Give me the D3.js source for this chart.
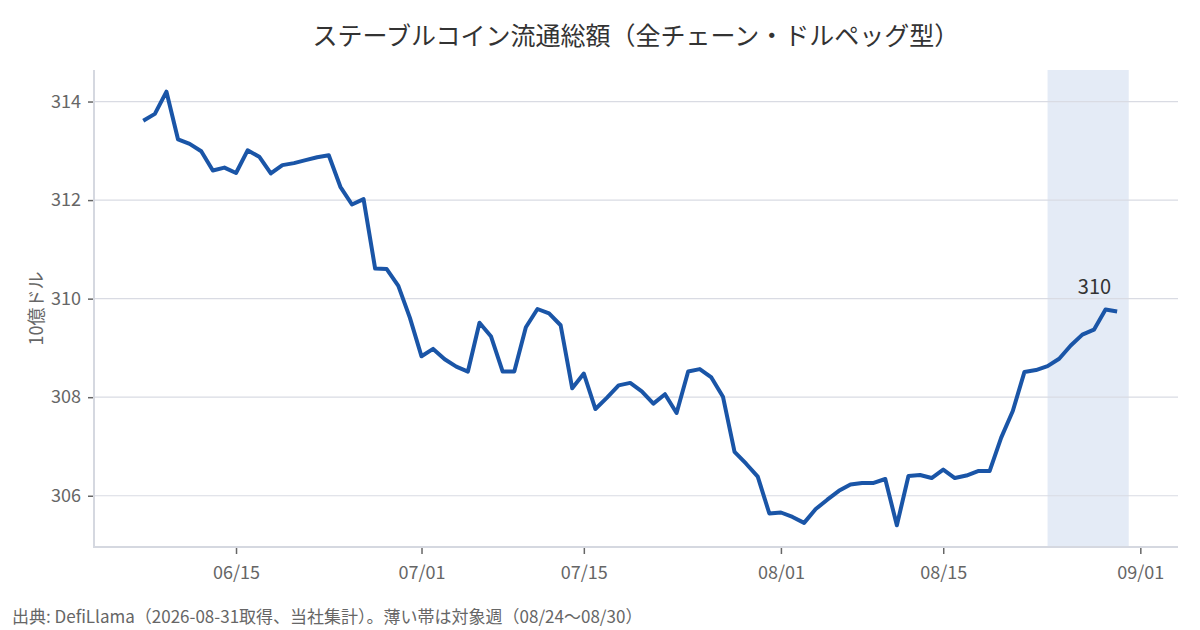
<!DOCTYPE html>
<html><head><meta charset="utf-8">
<script src="https://cdn.jsdelivr.net/npm/d3@7"></script>
<style>
html,body{margin:0;padding:0;background:#fff;}
svg{display:block;font-family:"Noto Sans CJK JP","Noto Sans",sans-serif;}
</style></head>
<body>
<svg id="chart" width="1200" height="630"></svg>
<script>
const TITLE = "ステーブルコイン流通総額（全チェーン・ドルペッグ型）";
const Y_LABEL = "10億ドル";
const FOOTER = "出典: DefiLlama（2026-08-31取得、当社集計）。薄い帯は対象週（08/24〜08/30）";
const FIRST_DAY = "2026-06-07";
const LAST_DAY = "2026-08-30";
const values = [
  313.61, 313.75, 314.20, 313.23, 313.14, 312.99, 312.60, 312.66, 312.55, 313.01,
  312.88, 312.54, 312.71, 312.75, 312.81, 312.87, 312.91, 312.27, 311.91, 312.02,
  310.61, 310.60, 310.26, 309.61, 308.83, 308.98, 308.77, 308.62, 308.52, 309.51,
  309.23, 308.52, 308.52, 309.42, 309.79, 309.70, 309.46, 308.18, 308.48, 307.76,
  307.99, 308.24, 308.29, 308.12, 307.87, 308.06, 307.68, 308.52, 308.57, 308.40,
  308.01, 306.89, 306.65, 306.39, 305.64, 305.66, 305.57, 305.45, 305.73, 305.92,
  306.10, 306.23, 306.26, 306.26, 306.34, 305.40, 306.40, 306.42, 306.36, 306.53,
  306.36, 306.41, 306.50, 306.50, 307.18, 307.72, 308.51, 308.55, 308.63, 308.78,
  309.05, 309.27, 309.37, 309.78, 309.74
];
const bandStart = "2026-08-24";
const bandEnd = "2026-08-31";
const xTickDates = ["2026-06-15","2026-07-01","2026-07-15","2026-08-01","2026-08-15","2026-09-01"];
const yTicks = [306, 308, 310, 312, 314];

const parse = d3.utcParse("%Y-%m-%d");
const days = d3.utcDay.range(parse(FIRST_DAY), d3.utcDay.offset(parse(LAST_DAY), 1));
const data = days.map((d, i) => ({date: d, value: values[i]}));

const svg = d3.select("#chart");
const m = {left: 94, right: 1178, top: 70, bottom: 547};
const FONT = '"Noto Sans CJK JP","Noto Sans",sans-serif';

const x0 = parse(FIRST_DAY), x1 = parse(bandEnd);
const span = x1 - x0;
const x = d3.scaleUtc()
  .domain([new Date(+x0 - span * 0.05), new Date(+x1 + span * 0.05)])
  .range([m.left, m.right]);

const vmin = d3.min(values), vmax = d3.max(values);
const vr = vmax - vmin;
const y = d3.scaleLinear()
  .domain([vmin - vr * 0.05, vmax + vr * 0.05])
  .range([m.bottom, m.top]);

// band
svg.append("rect")
  .attr("x", x(parse(bandStart)))
  .attr("y", m.top)
  .attr("width", x(parse(bandEnd)) - x(parse(bandStart)))
  .attr("height", m.bottom - m.top)
  .attr("fill", "#e4ebf6");

// grid
svg.append("g").selectAll("line").data(yTicks).join("line")
  .attr("x1", m.left).attr("x2", m.right)
  .attr("y1", d => y(d)).attr("y2", d => y(d))
  .attr("stroke", "#d9dbe3").attr("stroke-width", 1.2);

// y axis
const yAxis = svg.append("g")
  .attr("transform", `translate(${m.left},0)`)
  .call(d3.axisLeft(y).tickValues(yTicks).tickSize(6).tickPadding(7).tickFormat(d3.format("d")));
yAxis.select(".domain").remove();
yAxis.selectAll(".tick line").attr("stroke", "#666").attr("stroke-width", 1.5);
yAxis.selectAll(".tick text").attr("fill", "#666").attr("font-size", 18).attr("font-family", FONT);

// x axis
const fmt = d3.utcFormat("%m/%d");
const xAxis = svg.append("g")
  .attr("transform", `translate(0,${m.bottom})`)
  .call(d3.axisBottom(x).tickValues(xTickDates.map(parse)).tickSize(7).tickPadding(12).tickFormat(fmt));
xAxis.select(".domain").remove();
xAxis.selectAll(".tick line").attr("stroke", "#666").attr("stroke-width", 1.5).attr("y1", 1);
xAxis.selectAll(".tick text").attr("fill", "#666").attr("font-size", 18).attr("font-family", FONT);

// axis lines
svg.append("line").attr("x1", m.left).attr("x2", m.left).attr("y1", m.top).attr("y2", m.bottom + 1)
  .attr("stroke", "#d5d8e0").attr("stroke-width", 2);
svg.append("line").attr("x1", m.left - 1).attr("x2", m.right).attr("y1", m.bottom).attr("y2", m.bottom)
  .attr("stroke", "#d5d8e0").attr("stroke-width", 2);

// line
svg.append("path").datum(data)
  .attr("fill", "none")
  .attr("stroke", "#1a55a7")
  .attr("stroke-width", 4)
  .attr("stroke-linejoin", "round")
  .attr("d", d3.line().x(d => x(d.date)).y(d => y(d.value)));

// last value label
const last = data[data.length - 1];
svg.append("text")
  .attr("x", x(last.date) - 6)
  .attr("y", y(last.value) - 17)
  .attr("text-anchor", "end")
  .attr("font-size", 20)
  .attr("fill", "#333")
  .text(d3.format(".0f")(last.value));

// title
svg.append("text")
  .attr("x", (m.left + m.right) / 2)
  .attr("y", 45)
  .attr("text-anchor", "middle")
  .attr("font-size", 25)
  .attr("fill", "#333")
  .text(TITLE);

// y label
svg.append("text")
  .attr("transform", `translate(43,${(m.top + m.bottom) / 2}) rotate(-90)`)
  .attr("text-anchor", "middle")
  .attr("font-size", 18)
  .attr("fill", "#666")
  .text(Y_LABEL);

// footer
svg.append("text")
  .attr("x", 12)
  .attr("y", 623)
  .attr("font-size", 17)
  .attr("fill", "#666")
  .text(FOOTER);
</script>
</body></html>
